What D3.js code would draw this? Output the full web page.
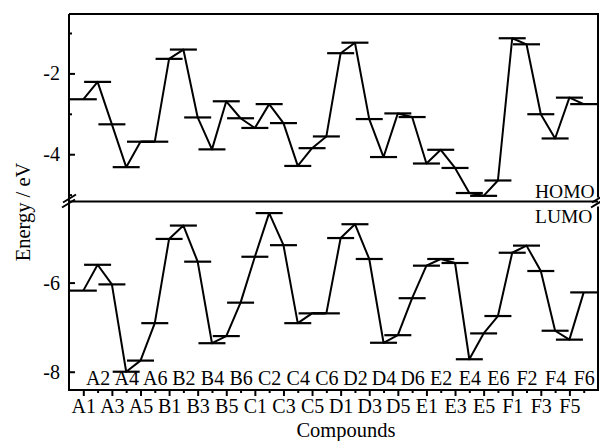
<!DOCTYPE html>
<html>
<head>
<meta charset="utf-8">
<script src="https://cdn.jsdelivr.net/npm/d3@7"></script>
<style>
  html, body { margin: 0; padding: 0; background: #fff; }
  svg { display: block; }
  text { font-family: "Liberation Serif", "Times New Roman", serif; fill: #000; }
</style>
</head>
<body>
<svg id="chart" width="600" height="441"></svg>
<script>
// Compounds, in order along the x axis
const compounds = [
  "A1","A2","A3","A4","A5","A6",
  "B1","B2","B3","B4","B5","B6",
  "C1","C2","C3","C4","C5","C6",
  "D1","D2","D3","D4","D5","D6",
  "E1","E2","E3","E4","E5","E6",
  "F1","F2","F3","F4","F5","F6"
];

// HOMO energies (eV)
const homo = [
  -2.64, -2.21, -3.26, -4.32, -3.69, -3.69,
  -1.64, -1.41, -3.09, -3.88, -2.69, -3.11,
  -3.35, -2.76, -3.23, -4.29, -3.85, -3.56,
  -1.50, -1.24, -3.13, -4.07, -2.99, -3.08,
  -4.23, -3.89, -4.34, -4.96, -5.03, -4.65,
  -1.13, -1.28, -3.01, -3.61, -2.60, -2.76
];

// LUMO energies (eV)
const lumo = [
  -6.18, -5.60, -6.04, -8.00, -7.75, -6.91,
  -5.02, -4.72, -5.53, -7.36, -7.20, -6.45,
  -5.42, -4.44, -5.16, -6.91, -6.69, -6.69,
  -5.00, -4.69, -5.47, -7.35, -7.18, -6.35,
  -5.62, -5.47, -5.56, -7.72, -7.14, -6.75,
  -5.33, -5.17, -5.74, -7.08, -7.28, -6.22
];

// Axis ticks
const homoMajorTicks = [-2, -4];
const homoMinorTicks = [-1, -3, -5];
const lumoMajorTicks = [-6, -8];

const svg = d3.select("#chart");

const plotLeft = 69, plotRight = 598, plotTop = 14, plotBottom = 390, breakY = 201.5;

const x = d3.scaleLinear().domain([0, compounds.length + 1]).range([plotLeft, plotRight]);
const yH = d3.scaleLinear().domain([-5.17, -0.53]).range([breakY, plotTop]);
const yL = d3.scaleLinear().domain([-8.41, -4.18]).range([plotBottom, breakY]);

const idx = d => compounds.indexOf(d) + 1;
const oddNames = compounds.filter((d, i) => i % 2 === 0);
const evenNames = compounds.filter((d, i) => i % 2 === 1);
const plainNumber = d => String(d);

function styleAxis(g, size) {
  g.attr("font-family", null).attr("font-size", null);
  g.select(".domain").remove();
  g.selectAll(".tick line").attr("stroke", "#000").attr("stroke-width", 2);
  g.selectAll(".tick text").style("font-size", size + "px").attr("fill", "#000");
}

// y axes (ticks point into the plot)
svg.append("g")
  .attr("transform", `translate(${plotLeft},0)`)
  .call(d3.axisLeft(yH).tickValues(homoMajorTicks).tickSize(-6).tickPadding(9).tickFormat(plainNumber))
  .call(styleAxis, 20);
svg.append("g")
  .attr("transform", `translate(${plotLeft},0)`)
  .call(d3.axisLeft(yH).tickValues(homoMinorTicks).tickSize(-3).tickFormat(""))
  .call(styleAxis, 20);
svg.append("g")
  .attr("transform", `translate(${plotLeft},0)`)
  .call(d3.axisLeft(yL).tickValues(lumoMajorTicks).tickSize(-6).tickPadding(9).tickFormat(plainNumber))
  .call(styleAxis, 20);

// x axis: odd compounds below with major ticks, even compounds above with minor ticks
svg.append("g")
  .attr("transform", `translate(0,${plotBottom})`)
  .call(d3.axisBottom(x).tickValues(oddNames.map(idx)).tickSize(6)
    .tickFormat(v => compounds[v - 1]))
  .call(styleAxis, 20)
  .call(g => g.selectAll(".tick text").attr("dy", null).attr("y", 23));
svg.append("g")
  .attr("transform", `translate(0,${plotBottom})`)
  .call(d3.axisBottom(x).tickValues(evenNames.map(idx)).tickSize(3)
    .tickFormat(v => compounds[v - 1]))
  .call(styleAxis, 20)
  .call(g => g.selectAll(".tick text").attr("dy", null).attr("y", -5));

// frame with broken axis
const frame = svg.append("g").attr("stroke", "#000").attr("stroke-width", 2).attr("fill", "none");
frame.append("path").attr("d",
  `M${plotLeft},${plotTop}H${plotRight}V${breakY - 4}` +
  `M${plotRight},${breakY + 5}V${plotBottom}H${plotLeft}V${plotTop}` +
  `M${plotLeft},${breakY}H${plotRight}`);
// break marks
[plotLeft, plotRight].forEach(bx => {
  frame.append("path").attr("d",
    `M${bx - 6},${breakY + 1}L${bx + 7},${breakY - 7}` +
    `M${bx - 7},${breakY + 6}L${bx + 6},${breakY - 2}`);
});

// energy levels and connecting lines
const half = 13.5;
function drawSeries(vals, y) {
  const g = svg.append("g");
  g.append("path")
    .datum(vals)
    .attr("fill", "none")
    .attr("stroke", "#000")
    .attr("stroke-width", 2)
    .attr("stroke-linejoin", "round")
    .attr("d", d3.line().x((d, i) => x(i + 1)).y(d => y(d)));
  g.selectAll("line.level")
    .data(vals)
    .join("line")
    .attr("class", "level")
    .attr("x1", (d, i) => x(i + 1) - half)
    .attr("x2", (d, i) => Math.min(x(i + 1) + half, plotRight))
    .attr("y1", d => y(d))
    .attr("y2", d => y(d))
    .attr("stroke", "#000")
    .attr("stroke-width", 2.2);
}
drawSeries(homo, yH);
drawSeries(lumo, yL);

// labels
svg.append("text").attr("x", 535).attr("y", 198).style("font-size", "19.5px").text("HOMO");
svg.append("text").attr("x", 535).attr("y", 223).style("font-size", "19.5px").text("LUMO");

svg.append("text")
  .attr("x", 346).attr("y", 437)
  .attr("text-anchor", "middle")
  .style("font-size", "20.5px")
  .text("Compounds");

svg.append("text")
  .attr("transform", "translate(30,212) rotate(-90)")
  .attr("text-anchor", "middle")
  .style("font-size", "20.5px")
  .text("Energy / eV");
</script>
</body>
</html>
